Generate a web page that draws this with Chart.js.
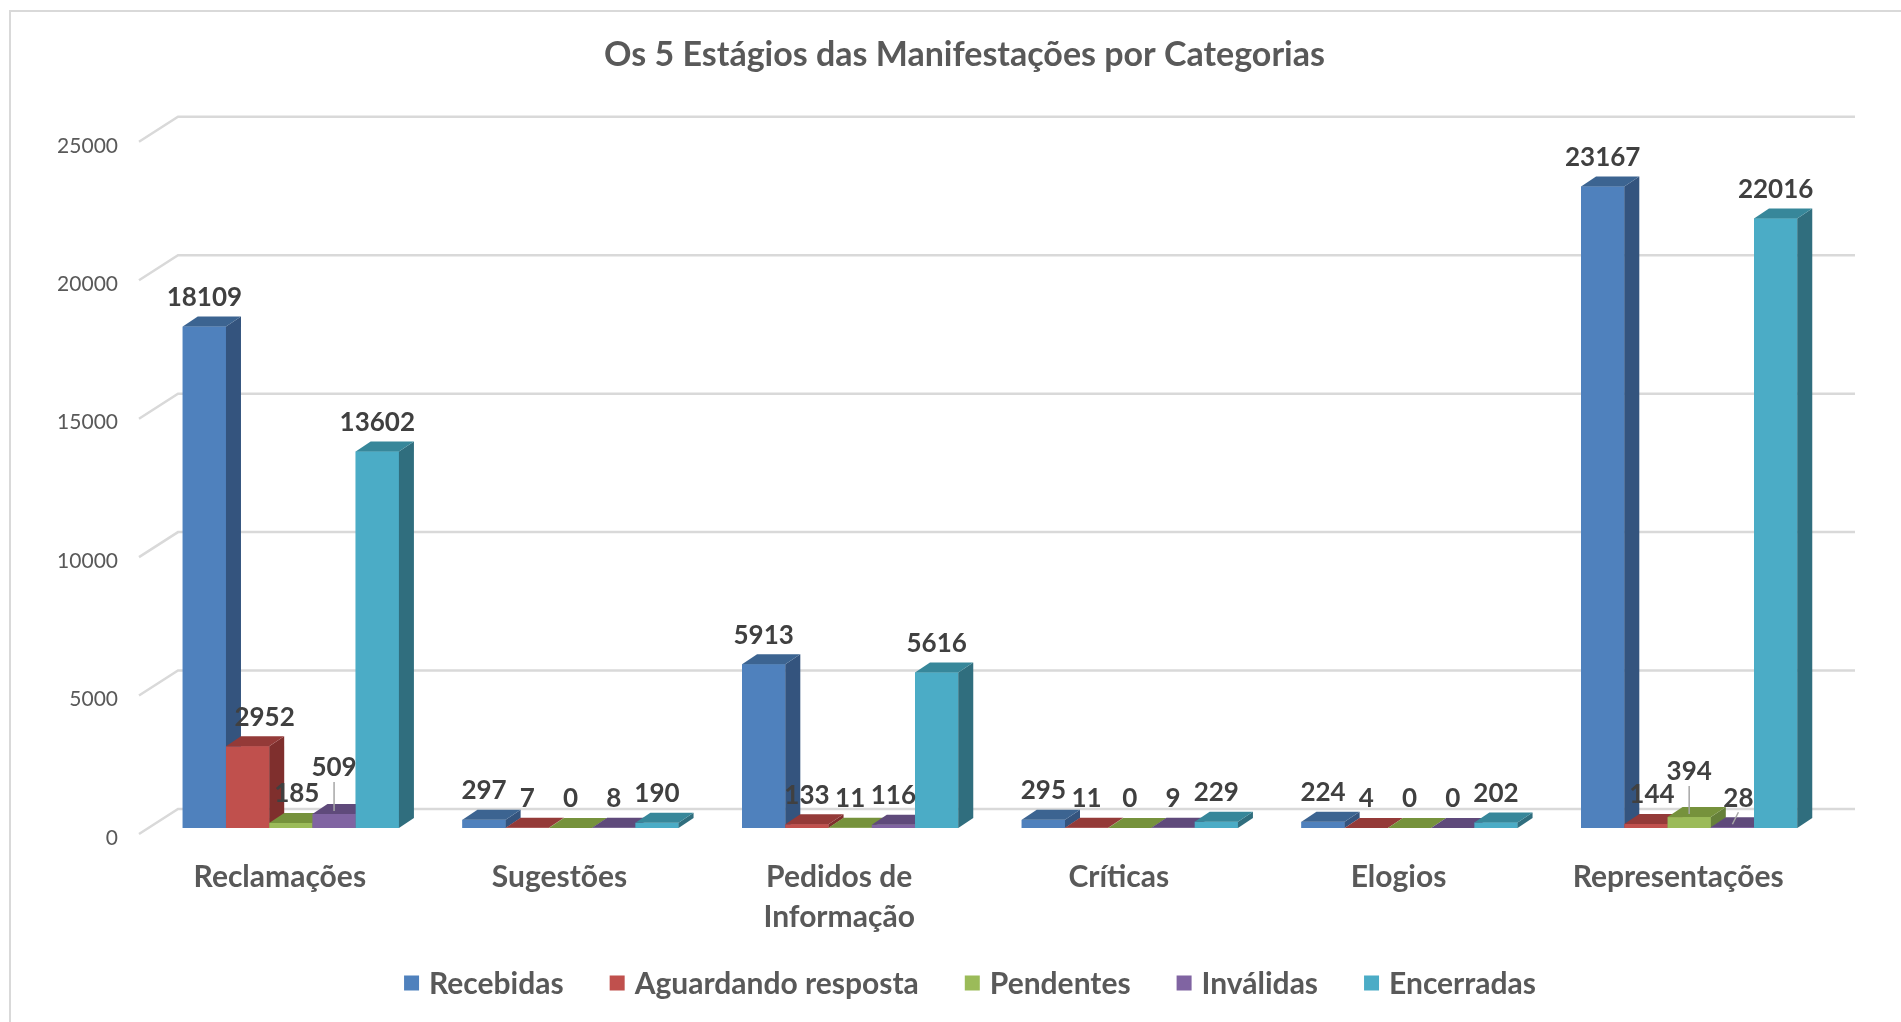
<!DOCTYPE html>
<html>
<head>
<meta charset="utf-8">
<script src="https://cdn.jsdelivr.net/npm/chart.js@4.4.1/dist/chart.umd.min.js"></script>
<style>
  html, body { margin: 0; padding: 0; background: #fff; }
</style>
</head>
<body>
<canvas id="chart" width="1901" height="1022"></canvas>
<script>
// data
const categories = [['Reclamações'], ['Sugestões'], ['Pedidos de', 'Informação'], ['Críticas'], ['Elogios'], ['Representações']]
const seriesNames = ['Recebidas', 'Aguardando resposta', 'Pendentes', 'Inválidas', 'Encerradas']
const recebidas = [18109, 297, 5913, 295, 224, 23167]
const aguardando = [2952, 7, 133, 11, 4, 144]
const pendentes = [185, 0, 11, 0, 0, 394]
const invalidas = [509, 8, 116, 9, 0, 28]
const encerradas = [13602, 190, 5616, 229, 202, 22016]
const yTicks = [0, 5000, 10000, 15000, 20000, 25000]

// excel style colours: front, right side, top
const frontColors = ['#4F81BD', '#C0504D', '#9BBB59', '#8064A2', '#4BACC6']
const sideColors = ['#34547E', '#7F2F2D', '#66803A', '#54416D', '#306E7E']
const topColors = ['#3C6491', '#943A38', '#76923C', '#5F4A7B', '#37879A']

// a few labels are moved by hand in the original, keyed "dataset-category"
const labelNudge = { '1-0': [17, 0], '2-0': [6, 0], '3-0': [0, -17], '2-5': [0, -16], '3-5': [6, 0], '1-5': [6, 0] }
const leaderLines = ['3-0', '2-5', '3-5']

const DX = 15 // bar depth
const DY = 10

const excel3d = {
  id: 'excel3d',
  beforeDraw(chart) {
    const ctx = chart.ctx
    ctx.save()
    ctx.strokeStyle = '#d9d9d9'
    ctx.lineWidth = 2
    ctx.beginPath()
    ctx.moveTo(10, 1022)
    ctx.lineTo(10, 11)
    ctx.lineTo(1901, 11)
    ctx.stroke()
    ctx.restore()
  },
  beforeDatasetsDraw(chart) {
    // back wall gridlines with the little floor diagonal
    const { ctx, chartArea, scales: { y } } = chart
    ctx.save()
    ctx.strokeStyle = '#d9d9d9'
    ctx.lineWidth = 2.5
    yTicks.forEach(v => {
      const yf = y.getPixelForValue(v)
      const yb = yf - 19
      ctx.beginPath()
      ctx.moveTo(chartArea.left - 12, yf + 6)
      ctx.lineTo(chartArea.left + 27, yb)
      ctx.lineTo(chartArea.right + 26, yb)
      ctx.stroke()
    })
    ctx.restore()
  },
  afterDatasetsDraw(chart) {
    const ctx = chart.ctx
    const metas = chart.data.datasets.map((ds, d) => chart.getDatasetMeta(d))
    ctx.save()
    // paint left to right so each front face hides the previous side
    categories.forEach((c, i) => {
      metas.forEach((meta, d) => {
        const bar = meta.data[i]
        const { x, y, base, width } = bar.getProps(['x', 'y', 'base', 'width'], true)
        const l = x - width / 2
        const r = x + width / 2
        ctx.fillStyle = frontColors[d]
        ctx.fillRect(l, y, width, base - y)
        ctx.fillStyle = sideColors[d]
        ctx.beginPath()
        ctx.moveTo(r, y); ctx.lineTo(r + DX, y - DY); ctx.lineTo(r + DX, base - DY); ctx.lineTo(r, base)
        ctx.closePath(); ctx.fill()
        ctx.fillStyle = topColors[d]
        ctx.beginPath()
        ctx.moveTo(l, y); ctx.lineTo(l + DX, y - DY); ctx.lineTo(r + DX, y - DY); ctx.lineTo(r, y)
        ctx.closePath(); ctx.fill()
      })
    })
    // value labels
    ctx.font = 'bold 26px Lato'
    ctx.textAlign = 'center'
    ctx.textBaseline = 'middle'
    chart.data.datasets.forEach((ds, d) => {
      metas[d].data.forEach((bar, i) => {
        const key = d + '-' + i
        const n = labelNudge[key] || [0, 0]
        const lx = bar.x + n[0]
        const ly = bar.y - 29 + n[1]
        if (leaderLines.includes(key)) {
          ctx.strokeStyle = '#a6a6a6'
          ctx.lineWidth = 1.5
          ctx.beginPath()
          ctx.moveTo(lx, ly + 14)
          ctx.lineTo(bar.x, bar.y - 3)
          ctx.stroke()
        }
        ctx.fillStyle = '#404040'
        ctx.fillText(ds.data[i], lx, ly)
      })
    })
    ctx.restore()
  },
  afterDraw(chart) {
    // legend drawn by hand so it can sit close under the two-line category label
    const ctx = chart.ctx
    const box = 15, gapText = 10, gapItem = 46, cx = 970, cy = 983
    ctx.save()
    ctx.font = 'bold 30px Lato'
    ctx.textBaseline = 'middle'
    ctx.textAlign = 'left'
    const widths = seriesNames.map(n => ctx.measureText(n).width)
    const total = widths.reduce((a, b) => a + b, 0) + seriesNames.length * (box + gapText) + (seriesNames.length - 1) * gapItem
    let x = cx - total / 2
    seriesNames.forEach((name, d) => {
      ctx.fillStyle = frontColors[d]
      ctx.fillRect(x, cy - box / 2, box, box)
      ctx.fillStyle = '#595959'
      ctx.fillText(name, x + box + gapText, cy + 1)
      x += box + gapText + widths[d] + gapItem
    })
    ctx.restore()
  }
}

const seriesData = [recebidas, aguardando, pendentes, invalidas, encerradas]
const datasets = seriesNames.map((name, d) => ({
  label: name,
  data: seriesData[d],
  backgroundColor: frontColors[d],
  borderWidth: 0,
  barPercentage: 1,
  categoryPercentage: 0.773
}))

new Chart(document.getElementById('chart'), {
  type: 'bar',
  data: { labels: categories, datasets },
  plugins: [excel3d],
  options: {
    responsive: false,
    devicePixelRatio: 1,
    animation: false,
    layout: { padding: { left: 50, right: 22, top: 0, bottom: 44 } },
    scales: {
      x: {
        grid: { display: false, drawTicks: false },
        border: { display: false },
        ticks: {
          color: '#595959',
          font: { family: 'Lato', size: 30, weight: 'bold', lineHeight: 1.34 },
          padding: 29,
          labelOffset: -11,
          maxRotation: 0,
          autoSkip: false
        },
        afterFit(s) { s.height = 150 }
      },
      y: {
        min: 0,
        max: 25000,
        afterBuildTicks(s) { s.ticks = yTicks.map(v => ({ value: v })) },
        grid: { display: false, drawTicks: false },
        border: { display: false },
        ticks: {
          color: '#595959',
          font: { family: 'Lato', size: 21 },
          padding: 33,
          labelOffset: 10,
          callback: v => String(v)
        },
        afterFit(s) { s.width = 101 }
      },
      // empty right axis, only keeps the plot where the original has it
      yRight: {
        type: 'linear',
        position: 'right',
        grid: { display: false, drawTicks: false },
        border: { display: false },
        ticks: { display: false },
        afterFit(s) { s.width = 50 }
      }
    },
    plugins: {
      title: {
        display: true,
        text: 'Os 5 Estágios das Manifestações por Categorias',
        color: '#595959',
        font: { family: 'Lato', size: 34, weight: 'bold' },
        padding: { top: 35, bottom: 60 }
      },
      legend: { display: false },
      tooltip: { enabled: false }
    }
  }
})
</script>
</body>
</html>
